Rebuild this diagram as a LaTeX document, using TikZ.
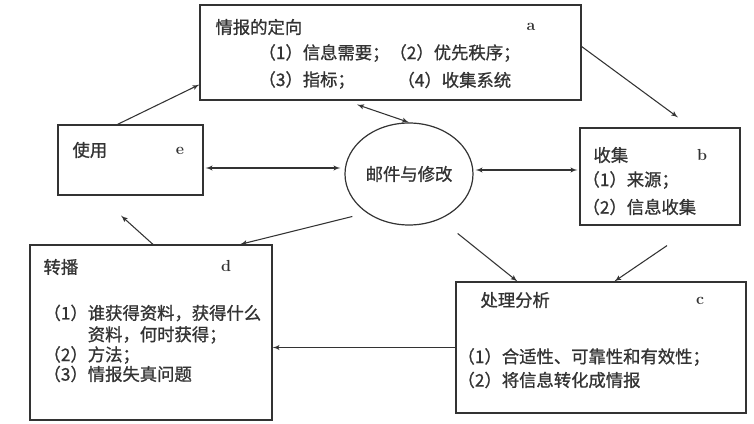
\documentclass[tikz,border=0pt]{standalone}
\usepackage{fontspec}
\newfontfamily\cjk{Noto Sans CJK SC}[FakeBold=1]
\usetikzlibrary {positioning}
\usetikzlibrary{arrows,shapes.geometric}

\begin{document}
\begin{tikzpicture}[x=0.75pt,y=-0.75pt,
thick ,color=black!80,
box/.style ={draw,rectangle,inner sep=0pt,line width=0.9pt},
txt/.style ={font=\cjk\fontsize{13}{16}\selectfont,inner sep=0pt,anchor=west},
tag/.style ={font=\bfseries\fontsize{12}{14}\selectfont,inner sep=0pt},
edge/.style = {->,> = latex'}]

\useasboundingbox (0,0) rectangle (754,424);

\node[box,minimum width=285.75pt,minimum height=71.25pt] (Ori_a) at (390.5,52.5) {};
\node[box,minimum width=120pt,minimum height=72.75pt] (Col_b) at (660,176.5) {};
\node[box,minimum width=217.5pt,minimum height=98.25pt] (Pro_c) at (601,347.5) {};
\node[box,minimum width=181.5pt,minimum height=131.25pt] (Dis_d) at (151,332.5) {};
\node[box,minimum width=108.75pt,minimum height=52.5pt] (Use_e) at (130.5,160) {};
\node[box,ellipse,minimum width=96pt,minimum height=76.5pt,font=\cjk\fontsize{13}{16}\selectfont] (Mail) at (409,174) {邮件与修改};

\node[txt] (Ori_t) at (215,27) {情报的定向};
\node[tag] (Ori_l) at (531,27) {a};
\node[txt] (Ori_1) at (258,53) {（1）信息需要；（2）优先秩序；};
\node[txt] (Ori_3) at (258,80) {（3）指标；};
\node[txt] (Ori_4) at (397,80) {（4）收集系统};

\node[txt] (Col_t) at (593,155) {收集};
\node[tag] (Col_l) at (702,155) {b};
\node[txt] (Col_1) at (582,180) {（1）来源；};
\node[txt] (Col_2) at (582,207) {（2）信息收集};

\node[txt] (Pro_t) at (480,300) {处理分析};
\node[tag] (Pro_l) at (700,301) {c};
\node[txt] (Pro_1) at (457,357) {（1）合适性、可靠性和有效性；};
\node[txt] (Pro_2) at (457,380) {（2）将信息转化成情报};

\node[txt] (Dis_t) at (43,267) {转播};
\node[tag] (Dis_l) at (226,266) {d};
\node[txt] (Dis_1) at (43,313) {（1）谁获得资料，获得什么};
\node[txt] (Dis_2) at (43,335) {\hphantom{（1）}资料，何时获得；};
\node[txt] (Dis_3) at (43,355) {（2）方法；};
\node[txt] (Dis_4) at (43,374) {（3）情报失真问题};

\node[txt] (Use_t) at (72,150) {使用};
\node[tag] (Use_l) at (180,151) {e};

\draw[edge]  ([shift={(-13,0)}]Use_e.north) -- ([shift={(0,-16)}]Ori_a.south west);
\draw[edge]  ([shift={(0,-6)}]Ori_a.east) -- ([shift={(18,-10)}]Col_b.north);
\draw[edge,<->]  ([shift={(-33.5,4)}]Ori_a.south) -- (Mail.north);
\draw[edge,<->]  ([shift={(2,8)}]Use_e.east) -- ([shift={(-4,-6)}]Mail.west);
\draw[edge,<->]  ([shift={(2,-4)}]Mail.east) -- ([shift={(-2,-6.5)}]Col_b.west);

\draw[edge]  ([shift={(-11,6)}]Mail.south west) -- ([shift={(89,0)}]Dis_d.north);
\draw[edge]  ([shift={(2,0)}]Dis_d.north) -- ([shift={(-9.5,20)}]Use_e.south);
\draw[edge]  ([shift={(3,23)}]Mail.south east) -- ([shift={(62,0)}]Pro_c.north west);
\draw[edge]  ([shift={(7,20)}]Col_b.south) -- ([shift={(159,0)}]Pro_c.north west);
\draw[edge]  (Pro_c.west) -- (Pro_c.west -| Dis_d.east);

\end{tikzpicture}
\end{document}
